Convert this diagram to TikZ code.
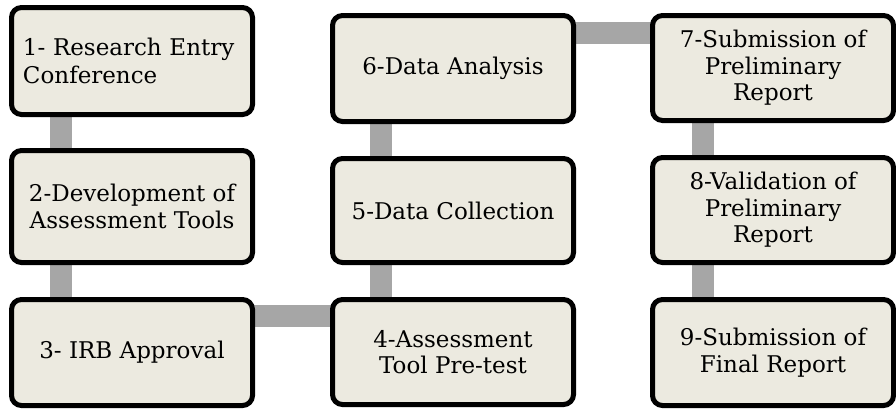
\documentclass[tikz,border=0pt]{standalone}
\usepackage{fontspec}
\setmainfont{DejaVu Serif}
\usetikzlibrary{backgrounds,calc}
\definecolor{boxfill}{RGB}{236,234,224}
\definecolor{linkgray}{RGB}{166,166,166}
\tikzset{
  stepbox/.style={draw=black, line width=5pt, rounded corners=10pt, fill=boxfill,
    outer sep=0pt, inner sep=0pt, align=center,
    font=\fontsize{23}{26.5}\selectfont},
  link/.style={draw=linkgray, line width=22pt},
}
\begin{document}
\begin{tikzpicture}[x=1pt, y=-1pt]
\useasboundingbox (0,0) rectangle (896,410);
% left column
\node[stepbox, minimum width=241pt, minimum height=107pt, text width=218pt, align=left,
  font=\fontsize{23}{28}\selectfont] (b1) at (132,61)
  {1- Research Entry\\Conference};
\node[stepbox, minimum width=241pt, minimum height=112pt] (b2) at (132,206.5)
  {2-Development of\\Assessment Tools};
\node[stepbox, minimum width=241pt, minimum height=106pt] (b3) at (132,352.5)
  {3- IRB Approval};
% middle column
\node[stepbox, minimum width=241pt, minimum height=105pt] (b4) at (453,352)
  {4-Assessment\\Tool Pre-test};
\node[stepbox, minimum width=241pt, minimum height=104pt] (b5) at (453,210.5)
  {5-Data Collection};
\node[stepbox, minimum width=241pt, minimum height=106pt] (b6) at (453,68.5)
  {6-Data Analysis};
% right column
\node[stepbox, minimum width=241pt, minimum height=105pt] (b7) at (773,68)
  {7-Submission of\\Preliminary\\Report};
\node[stepbox, minimum width=241pt, minimum height=105pt] (b8) at (773,210)
  {8-Validation of\\Preliminary\\Report};
\node[stepbox, minimum width=241pt, minimum height=106pt] (b9) at (773,352.5)
  {9-Submission of\\Final Report};
% grey links behind the boxes
\begin{pgfonlayer}{background}
  \draw[link] ($(b1.south west)+(49.5,0)$) -- ($(b2.north west)+(49.5,0)$);
  \draw[link] ($(b2.south west)+(49.5,0)$) -- ($(b3.north west)+(49.5,0)$);
  \draw[link] ($(b3.north east)+(0,16.5)$) -- ($(b4.north west)+(0,16.5)$);
  \draw[link] ($(b4.north west)+(48.5,0)$) -- ($(b5.south west)+(48.5,0)$);
  \draw[link] ($(b5.north west)+(48.5,0)$) -- ($(b6.south west)+(48.5,0)$);
  \draw[link] ($(b6.north east)+(0,17)$) -- ($(b7.north west)+(0,17)$);
  \draw[link] ($(b7.south west)+(50,0)$) -- ($(b8.north west)+(50,0)$);
  \draw[link] ($(b8.south west)+(50,0)$) -- ($(b9.north west)+(50,0)$);
\end{pgfonlayer}
\end{tikzpicture}
\end{document}
